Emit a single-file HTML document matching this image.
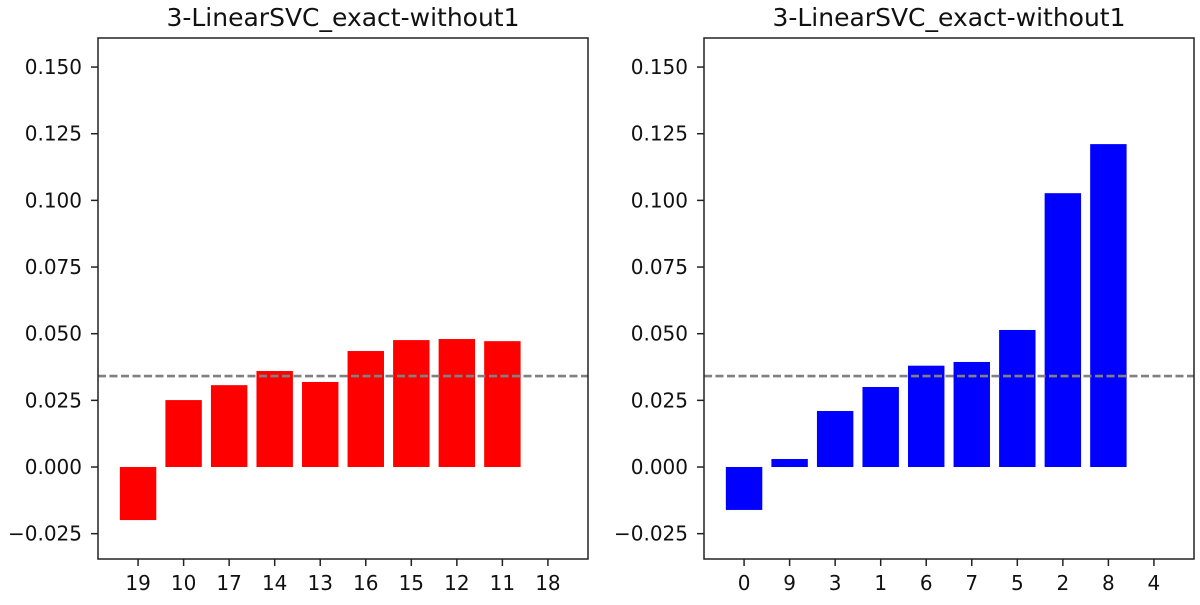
<!DOCTYPE html>
<html><head><meta charset="utf-8">
<style>
body{margin:0;background:#fff;font-family:"Liberation Sans","DejaVu Sans",sans-serif;}
svg text{font-family:"DejaVu Sans","Liberation Sans",sans-serif;}
</style></head>
<body>
<svg id="chart" width="1200" height="600" xmlns="http://www.w3.org/2000/svg"></svg>
<script>
const leftCategories = ["19","10","17","14","13","16","15","12","11","18"];
const leftValues = [-0.0199,0.0251,0.0307,0.036,0.0319,0.0435,0.0476,0.048,0.0472,0];
const rightCategories = ["0","9","3","1","6","7","5","2","8","4"];
const rightValues = [-0.0161,0.003,0.021,0.030,0.038,0.0394,0.0514,0.1027,0.1211,0];
const yTicks = [-0.025,0,0.025,0.05,0.075,0.1,0.125,0.15];
const yTickLabels = ["\u22120.025","0.000","0.025","0.050","0.075","0.100","0.125","0.150"];
const refLine = 0.0341;
const titles = ["3-LinearSVC_exact-without1","3-LinearSVC_exact-without1"];

const svg = document.getElementById('chart');
const NS = "http://www.w3.org/2000/svg";
function mk(tag, attrs){const e=document.createElementNS(NS,tag);for(const k in attrs)e.setAttribute(k,attrs[k]);svg.appendChild(e);return e;}

function panel(x0, cats, vals, color, title, key){
  const x1 = x0 + 490, yTop = 38, yBot = 559;
  const ymin = -0.0345, ymax = 0.1609;
  const Y = v => yBot - (v - ymin) / (ymax - ymin) * (yBot - yTop);
  const xmin = -0.88, xmax = 9.88;
  const X = i => x0 + (i - xmin) / (xmax - xmin) * (x1 - x0);
  const bw = 0.8 * (x1 - x0) / (xmax - xmin);
  vals.forEach((v,i)=>{
    const r = mk('rect',{x:X(i)-bw/2,y:Math.min(Y(v),Y(0)),width:bw,height:Math.abs(Y(v)-Y(0)),fill:color});
    
    
  });
  const l = mk('line',{x1:x0,x2:x1,y1:Y(refLine),y2:Y(refLine),stroke:'#808080','stroke-width':2.6,'stroke-dasharray':'8,3.5'});
  
  
  const f = mk('rect',{x:x0,y:yTop,width:x1-x0,height:yBot-yTop,fill:'none',stroke:'#222','stroke-width':1.5});
  
  
  yTicks.forEach((t,i)=>{
    const y = Y(t);
    mk('line',{x1:x0-7,x2:x0,y1:y,y2:y,stroke:'#222','stroke-width':1.5});
    const tx = mk('text',{x:x0-16,y:y+7,'text-anchor':'end','font-size':20,fill:'#111'});
    tx.textContent = yTickLabels[i];
    
    
  });
  cats.forEach((c,i)=>{
    const x = X(i);
    mk('line',{x1:x,x2:x,y1:yBot,y2:yBot+7,stroke:'#222','stroke-width':1.5});
    const tx = mk('text',{x:x,y:yBot+31,'text-anchor':'middle','font-size':20,fill:'#111'});
    tx.textContent = c;
    
    
  });
  const tt = mk('text',{x:(x0+x1)/2,y:26,'text-anchor':'middle','font-size':25,fill:'#111'});
  tt.textContent = title;
  
  
}
panel(98, leftCategories, leftValues, '#ff0000', titles[0], 'left');
panel(704, rightCategories, rightValues, '#0000ff', titles[1], 'right');
</script>
</body></html>
